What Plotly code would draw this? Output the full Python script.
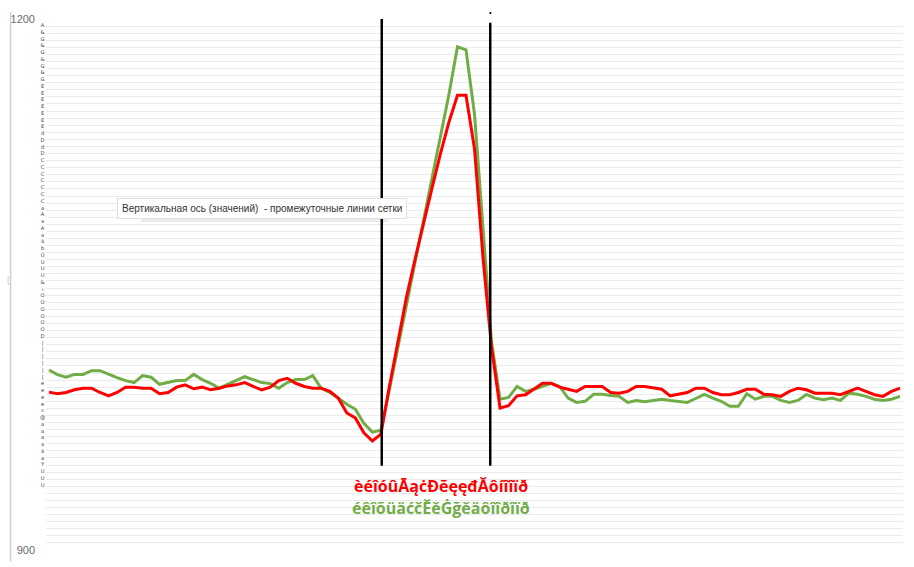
import plotly.graph_objects as go

# Sample index along the horizontal axis
points = list(range(101))

green_vals = [
    1001.7, 999.1, 997.6, 999.2, 999.2, 1001.3, 1001.3, 999.2, 997.4, 995.7,
    994.6, 998.5, 997.6, 993.6, 994.6, 995.7, 995.7, 999.2, 996.3, 994.2,
    991.4, 993.5, 995.7, 997.9, 996.3, 994.6, 994.0, 991.4, 994.6, 996.3,
    996.3, 998.5, 991.4, 989.0, 985.8, 982.3, 979.5, 971.6, 966.6, 967.7,
    990.7, 1014.7, 1038.8, 1062.3, 1086.4, 1109.9, 1134.0, 1157.5, 1184.3, 1182.6,
    1146.3, 1079.1, 1017.5, 985.2, 986.2, 992.4, 989.6, 990.8, 992.4, 994.2,
    992.4, 985.8, 983.4, 984.0, 988.0, 988.0, 987.3, 986.8, 983.4, 984.5,
    983.8, 984.5, 985.2, 984.5, 984.0, 983.4, 985.6, 987.9, 985.8, 984.0,
    981.2, 981.2, 988.3, 985.2, 986.8, 986.8, 984.5, 983.4, 984.5, 987.9,
    985.8, 984.9, 985.8, 984.5, 988.6, 988.0, 986.8, 985.2, 984.5, 985.2, 986.8,
]

red_vals = [
    989.2, 988.3, 989.0, 990.5, 991.4, 991.4, 989.0, 987.1, 989.0, 992.0,
    992.0, 991.4, 991.4, 988.3, 989.0, 992.0, 993.3, 991.1, 992.0, 990.5,
    991.4, 992.7, 993.3, 994.6, 992.4, 990.5, 992.0, 995.7, 997.0, 994.2,
    992.4, 991.4, 991.4, 989.6, 985.8, 977.4, 974.6, 966.2, 961.6, 965.5,
    992.4, 1017.5, 1042.7, 1064.0, 1084.7, 1104.3, 1123.9, 1141.8, 1156.9, 1156.9,
    1126.7, 1065.1, 1014.7, 980.2, 981.5, 987.1, 987.7, 990.8, 994.2, 994.2,
    992.0, 990.8, 989.6, 992.4, 992.4, 992.4, 989.0, 988.6, 989.6, 992.4,
    992.4, 991.8, 990.8, 987.1, 988.0, 989.0, 991.4, 991.4, 989.0, 987.7,
    987.7, 989.0, 990.8, 990.8, 988.0, 987.7, 986.8, 989.6, 991.4, 990.5,
    988.6, 988.6, 988.6, 987.7, 989.6, 991.4, 989.6, 987.7, 986.8, 989.6, 991.4,
]

y_ticks = [900, 1200]
y_tick_text = ["900", "1200"]

red_label = "èéîóûĀąċĐĕęęđĂôíîîïð"
green_label = "éêîõüäćčĔěĠğěäôîîðîïð"
tooltip_text = "Вертикальная ось (значений)  - промежуточные линии сетки"
axis_chars = "A&G&G&G&GEEEEEEEdDdDCCCCCCCaAaAaäbÜUUU&÷OOOOOOD||||||eeeec@aaaaäaYUUU"

marker_x = [39.1, 51.85]

GREEN = "#70ad47"
RED = "#ff0000"
PLOT_W = 859.0
PLOT_H = 536.5


def px_to_paper_x(px):
    return (px - 44) / PLOT_W


def px_to_paper_y(py):
    return 1 - (py - 19) / PLOT_H


fig = go.Figure()
fig.add_trace(go.Scatter(x=points, y=green_vals, mode="lines",
                         line=dict(color=GREEN, width=3), showlegend=False,
                         hoverinfo="skip"))
fig.add_trace(go.Scatter(x=points, y=red_vals, mode="lines",
                         line=dict(color=RED, width=3), showlegend=False,
                         hoverinfo="skip"))

shapes = []
# vertical black marker lines
shapes.append(dict(type="line", xref="x", yref="y", x0=marker_x[0], x1=marker_x[0],
                   y0=947.6, y1=1200, line=dict(color="black", width=2.5)))
shapes.append(dict(type="line", xref="x", yref="y", x0=marker_x[1], x1=marker_x[1],
                   y0=947.6, y1=1197.9, line=dict(color="black", width=2.5)))
shapes.append(dict(type="rect", xref="x", yref="paper", x0=marker_x[1] - 0.08,
                   x1=marker_x[1] + 0.12, y0=px_to_paper_y(14), y1=px_to_paper_y(12),
                   fillcolor="black", line=dict(width=0)))
# left panel border
shapes.append(dict(type="line", xref="paper", yref="paper",
                   x0=px_to_paper_x(8.5), x1=px_to_paper_x(8.5),
                   y0=px_to_paper_y(567), y1=px_to_paper_y(12),
                   line=dict(color="#d0d0d0", width=1.5)))
shapes.append(dict(type="path", xref="paper", yref="paper",
                   path="M {0},{1} L {2},{1} L {2},{3} L {0},{3}".format(
                       px_to_paper_x(8.5), px_to_paper_y(280),
                       px_to_paper_x(6), px_to_paper_y(287)),
                   line=dict(color="#d0d0d0", width=1)))
# tooltip shadow
shapes.append(dict(type="rect", xref="paper", yref="paper",
                   x0=px_to_paper_x(139), x1=px_to_paper_x(387),
                   y0=px_to_paper_y(224), y1=px_to_paper_y(202),
                   fillcolor="rgba(0,0,0,0.08)", line=dict(width=0)))

annotations = []
annotations.append(dict(text=tooltip_text, xref="paper", yref="paper",
                        x=px_to_paper_x(261), y=px_to_paper_y(210),
                        xanchor="center", yanchor="middle",
                        showarrow=False, bgcolor="white", bordercolor="#e0e0e0",
                        borderwidth=1, borderpad=4,
                        font=dict(family="Liberation Sans, Arial", size=10, color="#333333")))
annotations.append(dict(text="<b>" + red_label + "</b>", xref="paper", yref="paper",
                        x=px_to_paper_x(440), y=px_to_paper_y(491),
                        xanchor="center", yanchor="middle", showarrow=False,
                        font=dict(family="Open Sans", size=16, color=RED)))
annotations.append(dict(text="<b>" + green_label + "</b>", xref="paper", yref="paper",
                        x=px_to_paper_x(440), y=px_to_paper_y(513),
                        xanchor="center", yanchor="middle", showarrow=False,
                        font=dict(family="Open Sans", size=16, color=GREEN)))
# stacked characters along the value axis
annotations.append(dict(text="<br>".join(axis_chars), xref="paper", yref="paper",
                        x=px_to_paper_x(40), y=px_to_paper_y(20),
                        xanchor="center", yanchor="top", showarrow=False,
                        font=dict(family="DejaVu Sans", size=5.2, color="#404040")))

fig.update_layout(
    width=914, height=567,
    margin=dict(l=44, r=11, t=19, b=11.5),
    paper_bgcolor="white", plot_bgcolor="white",
    shapes=shapes, annotations=annotations,
    xaxis=dict(range=[-0.35, 100.35], showgrid=False, zeroline=False,
               showticklabels=False, showline=False, ticks=""),
    yaxis=dict(range=[900, 1200], tickvals=y_ticks, ticktext=y_tick_text,
               showgrid=True, gridcolor="#d4d4d4", gridwidth=1, zeroline=False,
               showline=False, ticks="", ticklabelstandoff=10,
               tickfont=dict(family="Liberation Sans, Arial", size=11, color="#6b6b6b"),
               minor=dict(dtick=4, tick0=900, showgrid=True, gridcolor="#ebebeb",
                          gridwidth=1, ticks="")),
)

fig.write_html("out.html")
